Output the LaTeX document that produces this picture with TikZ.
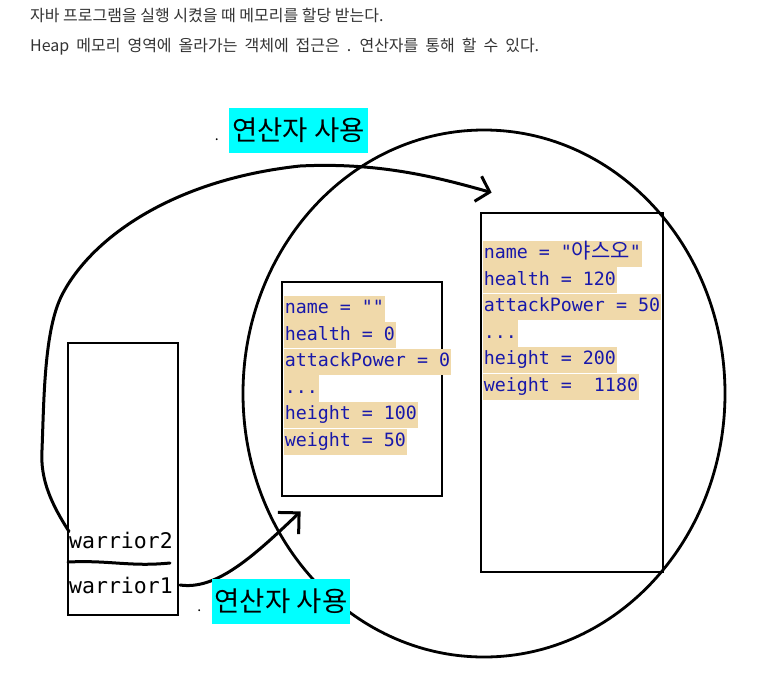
\documentclass[tikz,border=0pt]{standalone}
\usepackage{fontspec}
\usepackage{xcolor}
\usetikzlibrary{arrows.meta, positioning, shapes.geometric}
\newfontfamily\kr{Noto Sans CJK KR}
\newfontfamily\codefont{DejaVu Sans Mono}
\definecolor{code-blue}{RGB}{24,24,170}
\definecolor{code-bg}{RGB}{240,217,170}
\definecolor{note-gray}{RGB}{51,51,51}
\definecolor{op-cyan}{RGB}{0,255,255}

\begin{document}
\begin{tikzpicture}[
    x=1pt, y=-1pt,
    hand/.style={line width=3pt, line cap=round, line join=round},
    box/.style={draw, rectangle, line width=2.8pt, inner sep=0pt},
    code/.style={fill=code-bg, text=code-blue, inner xsep=1pt, inner ysep=0pt,
                 text height=18pt, text depth=8.2pt,
                 font=\codefont\fontsize{18.3}{22}\selectfont},
    var/.style={inner sep=0pt, font=\codefont\fontsize{21.5}{26}\selectfont},
    optag/.style={fill=op-cyan, inner xsep=3pt, inner ysep=0pt, minimum height=45pt,
                  font=\kr\fontsize{27.5}{32}\selectfont},
    opdot/.style={inner sep=0pt, font=\kr\fontsize{14}{16}\selectfont},
    note/.style={inner sep=0pt, anchor=west, text=note-gray,
                 font=\kr\fontsize{16}{19}\selectfont},
  ]
    \useasboundingbox (0,0) rectangle (771,683);

    \node[note] (line1) at (30,15) {자바 프로그램을 실행 시켰을 때 메모리를 할당 받는다.};
    \node[note] (line2) at (30,47) {\spaceskip=7pt Heap 메모리 영역에 올라가는 객체에 접근은 . 연산자를 통해 할 수 있다.};

    \node[draw, ellipse, line width=2.8pt, inner sep=0pt,
          minimum width=482pt, minimum height=527pt] (heap) at (484,393.5) {};

    \node[box, minimum width=110pt, minimum height=272pt] (stack) at (123,479) {};
    \node[box, minimum width=160pt, minimum height=214pt] (empty) at (362,389) {};
    \node[box, minimum width=182pt, minimum height=359pt] (yasuo) at (572,392.5) {};

    \node[var, anchor=base west] (w2) at (69,548) {warrior2};
    \node[var, anchor=base west] (w1) at (69,593) {warrior1};
    \draw[hand] (68,562) .. controls (110,560) and (130,567) .. (170,563);

    \coordinate (tipA) at ([shift={(12,-19)}]yasuo.north west);
    \coordinate (tipB) at ([shift={(20,14)}]empty.south west);
    \draw[hand, -{Straight Barb[length=12pt, width=26pt]}] (w2.north west)
        .. controls (52,505) and (40,480) .. (42,450)
        .. controls (44,400) and (44,330) .. (62,295)
        .. controls (90,240) and (170,180) .. (300,166)
        .. controls (380,162) and (440,178) .. (tipA);
    \draw[hand, -{Straight Barb[length=15pt, width=30pt]}] ([xshift=7pt]w1.east)
        .. controls (215,590) and (250,560) .. (tipB);

    \node[code, anchor=west] (e1) at ([shift={(3,28)}]empty.north west) {name = ""};
    \node[code, below=0pt of e1.south west, anchor=north west] (e2) {health = 0};
    \node[code, below=0pt of e2.south west, anchor=north west] (e3) {attackPower = 0};
    \node[code, below=0pt of e3.south west, anchor=north west] (e4) {...};
    \node[code, below=0pt of e4.south west, anchor=north west] (e5) {height = 100};
    \node[code, below=0pt of e5.south west, anchor=north west] (e6) {weight = 50};

    \node[code, anchor=west] (y1) at ([shift={(3,42)}]yasuo.north west)
        {name = "{\kr\fontsize{21}{22}\selectfont 야스오}"};
    \node[code, below=0pt of y1.south west, anchor=north west] (y2) {health = 120};
    \node[code, below=0pt of y2.south west, anchor=north west] (y3) {attackPower = 50};
    \node[code, below=0pt of y3.south west, anchor=north west] (y4) {...};
    \node[code, below=0pt of y4.south west, anchor=north west] (y5) {height = 200};
    \node[code, below=0pt of y5.south west, anchor=north west] (y6) {weight = \ 1180};

    \node[optag] (useTop) at (298.5,130.5) {연산자 사용};
    \node[opdot, left=10pt of useTop.base west, anchor=base east] (dotTop) {.};
    \node[optag] (useBot) at (281,601) {연산자 사용};
    \node[opdot, left=10pt of useBot.base west, anchor=base east] (dotBot) {.};
  \end{tikzpicture}
\end{document}
